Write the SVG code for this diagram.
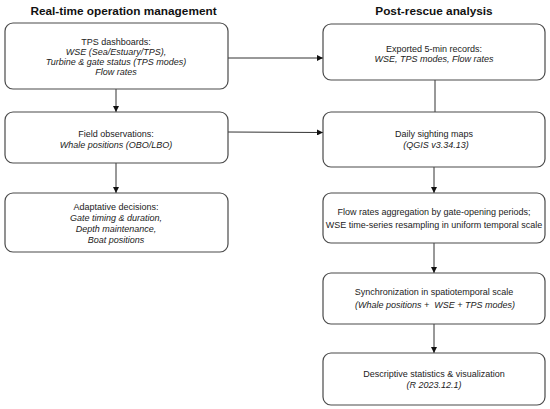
<svg xmlns="http://www.w3.org/2000/svg" width="550" height="409" viewBox="0 0 550 409">
<style>
.box{fill:#fff;stroke:#4a4a4a;stroke-width:1.2}
.t{font-family:"Liberation Sans",Arial,sans-serif;font-size:9px;fill:#222;text-anchor:middle}
.i{font-style:italic}
.h{font-family:"Liberation Sans",Arial,sans-serif;font-size:11.8px;font-weight:bold;fill:#111;text-anchor:middle}
.c{stroke:#333;stroke-width:1;fill:none}
</style>
<defs>
<marker id="ah" viewBox="0 0 10 10" refX="10" refY="5" markerWidth="6" markerHeight="6" markerUnits="userSpaceOnUse" orient="auto">
<path d="M0,0 L10,5 L0,10 z" fill="#111"/>
</marker>
</defs>
<rect width="550" height="409" fill="#fff"/>
<text class="h" x="123.5" y="14.5">Real-time operation management</text>
<text class="h" x="434" y="14.5">Post-rescue analysis</text>
<g id="connectors">
<line class="c" x1="116" y1="89" x2="116" y2="112" marker-end="url(#ah)"/>
<line class="c" x1="116" y1="163" x2="116" y2="193" marker-end="url(#ah)"/>
<line class="c" x1="228" y1="58" x2="323" y2="58" marker-end="url(#ah)"/>
<line class="c" x1="228" y1="132" x2="323" y2="132.5" marker-end="url(#ah)"/>
<line class="c" x1="435" y1="80" x2="435" y2="112"/>
<line class="c" x1="434" y1="167" x2="434" y2="193" marker-end="url(#ah)"/>
<line class="c" x1="434" y1="243" x2="434" y2="273" marker-end="url(#ah)"/>
<line class="c" x1="434" y1="324" x2="434" y2="353" marker-end="url(#ah)"/>
</g>
<g id="tps">
<rect class="box" x="5" y="23" width="223" height="66" rx="8"/>
<text class="t" x="116" y="44.5">TPS dashboards:</text>
<text class="t i" x="116" y="54.5">WSE (Sea/Estuary/TPS),</text>
<text class="t i" x="116" y="64.5">Turbine &amp; gate status (TPS modes)</text>
<text class="t i" x="116" y="74.5">Flow rates</text>
</g>
<g id="field">
<rect class="box" x="5" y="112" width="223" height="51" rx="8"/>
<text class="t" x="116" y="136.5">Field observations:</text>
<text class="t i" x="116" y="147.5">Whale positions (OBO/LBO)</text>
</g>
<g id="adaptive">
<rect class="box" x="5" y="193" width="223" height="59" rx="8"/>
<text class="t" x="116" y="210">Adaptative decisions:</text>
<text class="t i" x="116" y="221">Gate timing &amp; duration,</text>
<text class="t i" x="116" y="232">Depth maintenance,</text>
<text class="t i" x="116" y="242.5">Boat positions</text>
</g>
<g id="exported">
<rect class="box" x="323" y="24" width="222" height="56" rx="8"/>
<text class="t" x="434" y="51.5">Exported 5-min records:</text>
<text class="t i" x="434" y="62">WSE, TPS modes, Flow rates</text>
</g>
<g id="daily">
<rect class="box" x="323" y="112" width="222" height="55" rx="8"/>
<text class="t" x="434" y="136.5">Daily sighting maps</text>
<text class="t i" x="436" y="147.5">(QGIS v3.34.13)</text>
</g>
<g id="flow">
<rect class="box" x="323" y="193" width="222" height="50" rx="8"/>
<text class="t" x="434" y="214.5">Flow rates aggregation by gate-opening periods;</text>
<text class="t" x="434" y="227.5">WSE time-series resampling in uniform temporal scale</text>
</g>
<g id="sync">
<rect class="box" x="323" y="273" width="222" height="51" rx="8"/>
<text class="t" x="434" y="295">Synchronization in spatiotemporal scale</text>
<text class="t i" x="435" y="307.5" xml:space="preserve">(Whale positions +  WSE + TPS modes)</text>
</g>
<g id="desc">
<rect class="box" x="323" y="353" width="222" height="52" rx="8"/>
<text class="t" x="434" y="376.5">Descriptive statistics &amp; visualization</text>
<text class="t i" x="434" y="388">(R 2023.12.1)</text>
</g>
</svg>
